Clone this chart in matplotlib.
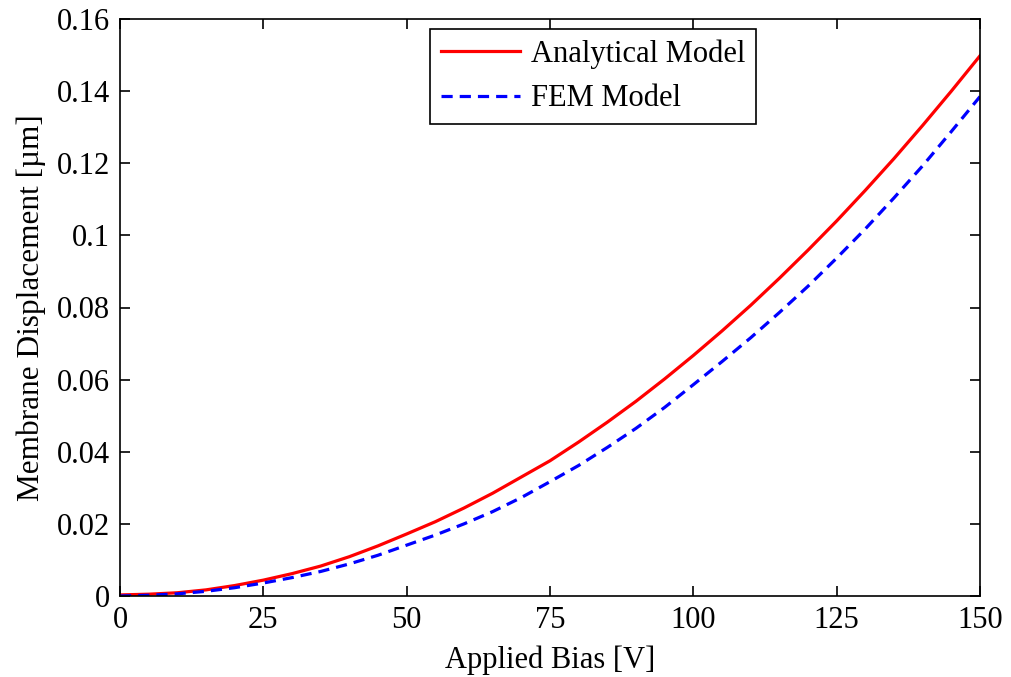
import matplotlib
matplotlib.use("Agg")
import matplotlib.pyplot as plt

bias = [0, 5, 10, 15, 20, 25, 30, 35, 40, 45, 50, 55, 60, 65, 70, 75, 80, 85, 90, 95,
        100, 105, 110, 115, 120, 125, 130, 135, 140, 145, 150]
analytical = [0.0003, 0.0005, 0.0009, 0.0017, 0.0029, 0.0044, 0.0062, 0.0083, 0.0109, 0.0139,
              0.0172, 0.0206, 0.0244, 0.0285, 0.0330, 0.0375, 0.0427, 0.0482, 0.0540, 0.0602,
              0.0667, 0.0735, 0.0806, 0.0881, 0.0959, 0.1040, 0.1125, 0.1213, 0.1305, 0.1400, 0.1498]
fem = [0.0000, 0.0002, 0.0006, 0.0013, 0.0023, 0.0036, 0.0051, 0.0068, 0.0089, 0.0113,
       0.0141, 0.0169, 0.0200, 0.0234, 0.0273, 0.0317, 0.0362, 0.0412, 0.0465, 0.0523,
       0.0586, 0.0650, 0.0716, 0.0786, 0.0859, 0.0937, 0.1018, 0.1104, 0.1193, 0.1288, 0.1385]

xticks = [0, 25, 50, 75, 100, 125, 150]
yticks = [0, 0.02, 0.04, 0.06, 0.08, 0.1, 0.12, 0.14, 0.16]
yticklabels = ["0", "0.02", "0.04", "0.06", "0.08", "0.1", "0.12", "0.14", "0.16"]

plt.rcParams['font.family'] = ['Liberation Serif', 'DejaVu Serif']
W, H = 1011, 677
FS = 22
fig = plt.figure(figsize=(W / 100, H / 100), dpi=100)
ax = fig.add_axes([120 / W, 1 - 596 / H, 860 / W, 577 / H])

ax.plot(bias, analytical, color='#ff0000', lw=2.3, label='Analytical Model')
ax.plot(bias, fem, color='#0000ff', lw=2.3, linestyle=(0, (3.5, 2.2)), label='FEM Model')

ax.set_xlim(0, 150)
ax.set_ylim(0, 0.16)
ax.set_xticks(xticks)
ax.set_xticklabels([str(t) for t in xticks])
ax.set_yticks(yticks)
ax.set_yticklabels(yticklabels)
ax.tick_params(direction='in', length=7, width=1.2, top=True, right=True,
               labelsize=FS)
ax.tick_params(axis='x', pad=7)
ax.tick_params(axis='y', pad=7)
for s in ax.spines.values():
    s.set_linewidth(1.2)

ax.set_xlabel('Applied Bias [V]', fontsize=FS, labelpad=8)
ax.set_ylabel('Membrane Displacement [µm]', fontsize=FS + 0.5, labelpad=8)

leg = ax.legend(loc='upper left', bbox_to_anchor=(430 / W, 1 - 29 / H),
                bbox_transform=fig.transFigure, borderaxespad=0, fancybox=False,
                edgecolor='black', framealpha=1, fontsize=FS, handlelength=2.6,
                borderpad=0.35, labelspacing=0.5, handletextpad=0.35)
leg.get_frame().set_linewidth(1.2)

fig.savefig('out.png', dpi=100)
